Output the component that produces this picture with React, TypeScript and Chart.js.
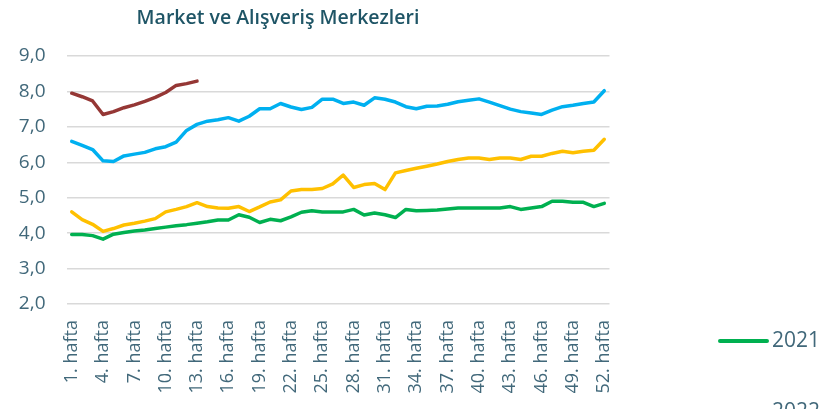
import React, { useEffect, useRef } from "react";
import { Chart, registerables } from "chart.js";

Chart.register(...registerables);

const TITLE = "Market ve Alışveriş Merkezleri";

const weeks: string[] = Array.from({ length: 52 }, (_, i) => `${i + 1}. hafta`);

const yTicksMin = 2;
const yTicksMax = 9;

const series2019Label = "2019";
const series2020Label = "2020";
const series2021Label = "2021";
const series2022Label = "2022";

// green
const values2021: number[] = [
  3.96, 3.96, 3.93, 3.83, 3.97, 4.02, 4.06, 4.09, 4.13, 4.17,
  4.21, 4.24, 4.28, 4.32, 4.37, 4.37, 4.52, 4.45, 4.3, 4.39,
  4.35, 4.46, 4.59, 4.63, 4.6, 4.6, 4.6, 4.67, 4.51, 4.57,
  4.52, 4.44, 4.67, 4.63, 4.64, 4.65, 4.68, 4.71, 4.71, 4.71,
  4.71, 4.71, 4.75, 4.67, 4.71, 4.75, 4.9, 4.9, 4.87, 4.87,
  4.75, 4.84,
];

// yellow
const values2020: number[] = [
  4.6, 4.38, 4.25, 4.05, 4.13, 4.23, 4.28, 4.34, 4.41, 4.6,
  4.67, 4.75, 4.86, 4.75, 4.71, 4.7, 4.75, 4.61, 4.74, 4.88,
  4.94, 5.19, 5.23, 5.23, 5.26, 5.39, 5.64, 5.29, 5.37, 5.4,
  5.23, 5.7, 5.77, 5.83, 5.89, 5.95, 6.02, 6.08, 6.12, 6.12,
  6.08, 6.12, 6.12, 6.08, 6.17, 6.17, 6.25, 6.31, 6.27, 6.31,
  6.34, 6.65,
];

// blue
const values2019: number[] = [
  6.59, 6.48, 6.36, 6.04, 6.02, 6.18, 6.23, 6.28, 6.38, 6.44,
  6.57, 6.9, 7.07, 7.16, 7.2, 7.26, 7.16, 7.3, 7.51, 7.51,
  7.66, 7.56, 7.49, 7.55, 7.78, 7.78, 7.66, 7.7, 7.61, 7.82,
  7.78, 7.7, 7.57, 7.51, 7.58, 7.59, 7.64, 7.71, 7.75, 7.79,
  7.7, 7.6, 7.5, 7.43, 7.39, 7.35, 7.47, 7.57, 7.61, 7.66,
  7.7, 8.02,
];

// dark red
const values2022: number[] = [
  7.95, 7.85, 7.73, 7.35, 7.43, 7.54, 7.62, 7.72, 7.83, 7.97,
  8.17, 8.22, 8.29,
];

const GREEN = "#00B050";
const YELLOW = "#FFC000";
const BLUE = "#00B0F0";
const RED = "#953735";
const TEXT = "#41687A";
const TITLE_COLOR = "#1F5566";
const FONT = "'Open Sans', sans-serif";

const overlayPlugin = {
  id: "overlay",
  afterDraw(chart: any) {
    const ctx = chart.ctx as CanvasRenderingContext2D;
    ctx.save();
    // title
    ctx.fillStyle = TITLE_COLOR;
    ctx.font = `600 19.5px ${FONT}`;
    ctx.textAlign = "center";
    ctx.textBaseline = "alphabetic";
    ctx.fillText(TITLE, 278, 24);
    // legend
    const items = [
      { label: series2021Label, color: GREEN, y: 341 },
      { label: series2022Label, color: RED, y: 412 },
    ];
    ctx.font = `21px ${FONT}`;
    ctx.textAlign = "left";
    ctx.textBaseline = "middle";
    for (const it of items) {
      ctx.strokeStyle = it.color;
      ctx.lineWidth = 4;
      ctx.lineCap = "round";
      ctx.beginPath();
      ctx.moveTo(720, it.y);
      ctx.lineTo(767, it.y);
      ctx.stroke();
      ctx.fillStyle = TEXT;
      ctx.fillText(it.label, 772, it.y);
    }
    ctx.restore();
  },
};

export default function App() {
  const ref = useRef<HTMLCanvasElement>(null);
  useEffect(() => {
    document.body.style.margin = "0";
    const mk = (label: string, data: number[], color: string) => ({
      label,
      data,
      borderColor: color,
      backgroundColor: color,
      borderWidth: 3.5,
      pointRadius: 0,
      pointHoverRadius: 0,
      tension: 0,
      borderJoinStyle: "round" as const,
      borderCapStyle: "round" as const,
      fill: false,
    });
    const chart = new Chart(ref.current!, {
      type: "line",
      data: {
        labels: weeks,
        datasets: [
          mk(series2021Label, values2021, GREEN),
          mk(series2020Label, values2020, YELLOW),
          mk(series2019Label, values2019, BLUE),
          mk(series2022Label, values2022, RED),
        ],
      },
      options: {
        responsive: false,
        animation: false,
        events: [],
        layout: { padding: { top: 56, left: 0, right: 227.5, bottom: 0 } },
        plugins: {
          legend: { display: false },
          title: { display: false },
          tooltip: { enabled: false },
        },
        scales: {
          x: {
            offset: true,
            grid: { display: false, drawTicks: false },
            border: { display: false },
            afterFit(scale: any) {
              scale.height = 105;
            },
            ticks: {
              autoSkip: false,
              maxRotation: 90,
              minRotation: 90,
              padding: 16,
              color: TEXT,
              font: { family: FONT, size: 18 },
              callback: (_v: any, i: number) => (i % 3 === 0 ? weeks[i] : ""),
            },
          },
          y: {
            min: yTicksMin,
            max: yTicksMax,
            grid: { color: "#D9D9D9", lineWidth: 1.5, drawTicks: false },
            border: { display: false },
            afterFit(scale: any) {
              scale.width = 66.5;
            },
            ticks: {
              stepSize: 1,
              padding: 21,
              color: TEXT,
              font: { family: FONT, size: 19 },
              callback: (v: any) => Number(v).toFixed(1).replace(".", ","),
            },
          },
        },
      },
      plugins: [overlayPlugin],
    });
    return () => chart.destroy();
  }, []);
  return (
    <div style={{ position: "fixed", left: 0, top: 0, width: 837, height: 409, background: "#fff" }}>
      <canvas ref={ref} width={837} height={409} style={{ display: "block" }} />
    </div>
  );
}
